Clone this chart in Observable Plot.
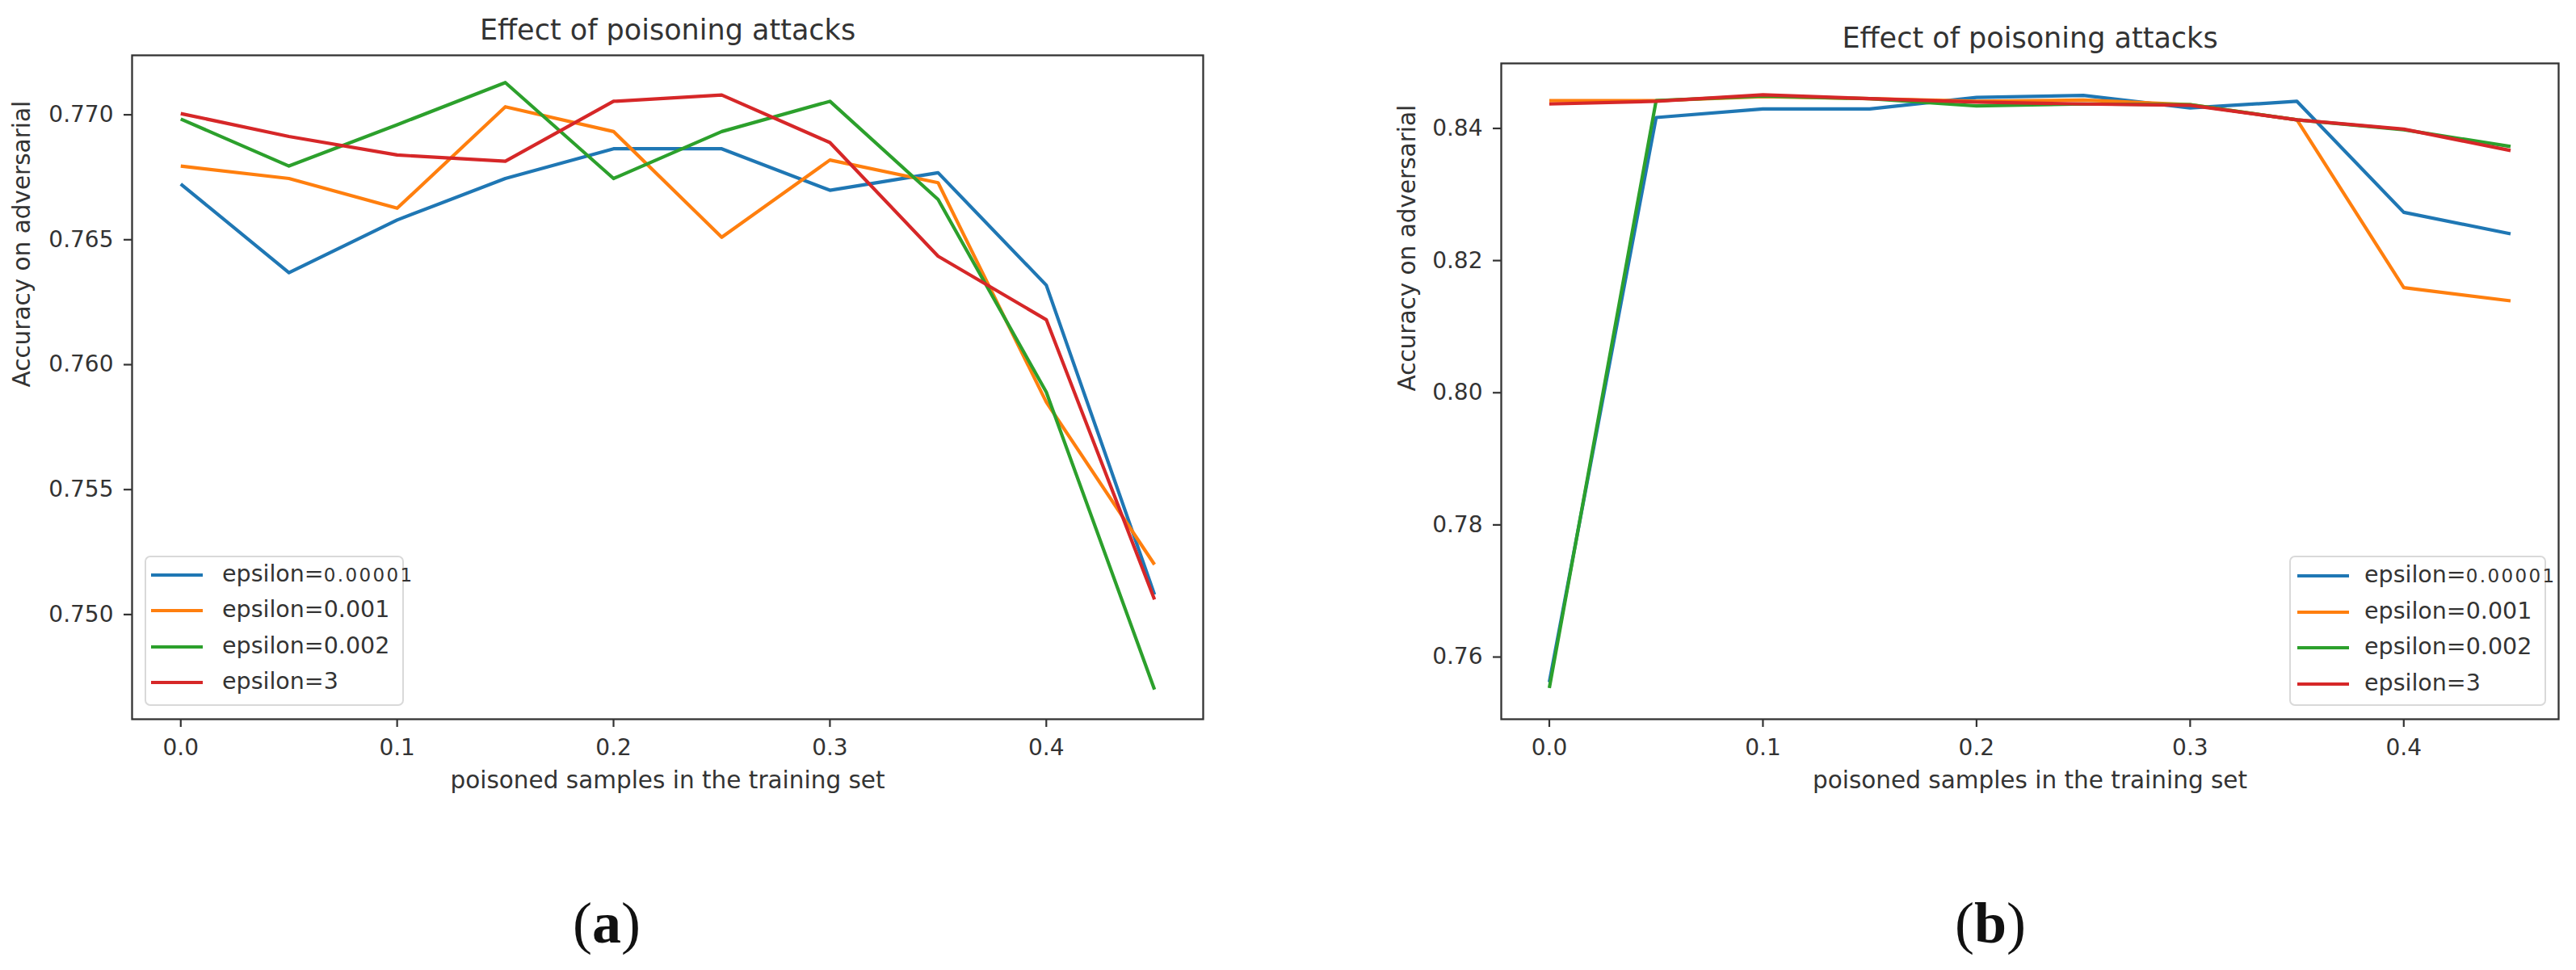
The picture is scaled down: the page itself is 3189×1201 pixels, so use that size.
<!DOCTYPE html>
<html>
<head>
<meta charset="utf-8">
<script src="https://cdn.jsdelivr.net/npm/d3@7"></script>
<script src="https://cdn.jsdelivr.net/npm/@observablehq/plot@0.6"></script>
<style>
  html, body { margin: 0; padding: 0; background: #fff; }
  #page { position: relative; width: 3189px; height: 1201px; overflow: hidden; background: #fff; font-family: "DejaVu Sans", sans-serif; color: #333; }
  .chart { position: absolute; top: 0; }
  .legend { position: absolute; box-sizing: border-box; border: 2px solid #d9d9d9; border-radius: 7px; background: rgba(255,255,255,0.85); }
  .entry { position: absolute; left: 0; width: 100%; height: 0; }
  .handle { position: absolute; height: 4.2px; top: -2.1px; }
  .ltext { position: absolute; top: 0; transform: translateY(-52%); font-size: 28.5px; line-height: 1; white-space: nowrap; color: #333; }
  .small { font-size: 23px; letter-spacing: 2.4px; }
  .sub { position: absolute; font-family: "Liberation Serif", serif; font-size: 72px; line-height: 1; transform: translate(-50%, -50%); color: #111; white-space: nowrap; }
</style>
</head>
<body>
<div id="page"></div>
<script>
// ---------- data ----------
const xValues = [0, 0.05, 0.1, 0.15, 0.2, 0.25, 0.3, 0.35, 0.4, 0.45];
const seriesNames = ["epsilon=0.00001", "epsilon=0.001", "epsilon=0.002", "epsilon=3"];
const seriesColors = ["#1f77b4", "#ff7f0e", "#2ca02c", "#d62728"];

// chart (a)
const aBlue   = [0.76723, 0.76368, 0.76579, 0.76745, 0.76864, 0.76864, 0.76698, 0.76768, 0.76318, 0.7508];
const aOrange = [0.76795, 0.76745, 0.76626, 0.77032, 0.76933, 0.76510, 0.76819, 0.76728, 0.75850, 0.7520];
const aGreen  = [0.76983, 0.76795, 0.76960, 0.77129, 0.76745, 0.76933, 0.77054, 0.76661, 0.75890, 0.7470];
const aRed    = [0.77005, 0.76913, 0.76839, 0.76814, 0.77054, 0.77079, 0.76889, 0.76434, 0.76180, 0.7506];

// chart (b)
const bBlue   = [0.7562, 0.84165, 0.84295, 0.84295, 0.8447, 0.8450, 0.8431, 0.8441, 0.8273, 0.82405];
const bOrange = [0.8442, 0.8442, 0.8448, 0.8445, 0.8441, 0.8443, 0.8436, 0.8413, 0.8159, 0.8139];
const bGreen  = [0.7553, 0.8442, 0.8449, 0.8445, 0.8434, 0.8437, 0.8436, 0.8413, 0.8398, 0.83726];
const bRed    = [0.8437, 0.8441, 0.8451, 0.8445, 0.8440, 0.8437, 0.8435, 0.8413, 0.8399, 0.83665];

const xTicks = [0, 0.1, 0.2, 0.3, 0.4];
const yTicksA = [0.750, 0.755, 0.760, 0.765, 0.770];
const yTicksB = [0.76, 0.78, 0.80, 0.82, 0.84];

const titleText = "Effect of poisoning attacks";
const xLabelText = "poisoned samples in the training set";
const yLabelText = "Accuracy on adversarial";

// ---------- build ----------
function rows(seriesVals) {
  return seriesNames.flatMap((s, i) => xValues.map((x, j) => ({series: s, x, y: seriesVals[i][j]})));
}

function makeChart(cfg) {
  const data = rows(cfg.values);
  return Plot.plot({
    width: cfg.width, height: 1000,
    marginLeft: cfg.ml, marginRight: cfg.mr, marginTop: cfg.mt, marginBottom: 1000 - 890,
    style: {fontFamily: "DejaVu Sans", color: "#333", background: "transparent", overflow: "visible"},
    x: {domain: [-0.0225, 0.4725]},
    y: {domain: cfg.yDomain},
    color: {domain: seriesNames, range: seriesColors},
    marks: [
      Plot.lineY(data, {x: "x", y: "y", z: "series", stroke: "series", strokeWidth: 4.2, strokeLinejoin: "round", strokeLinecap: "butt"}),
      Plot.frame({stroke: "#333", strokeWidth: 2.3}),
      Plot.axisX({ticks: xTicks, tickFormat: d3.format(".1f"), tickSize: 10, tickPadding: 15, fontSize: 28, strokeWidth: 2.2, color: "#333", label: null}),
      Plot.axisY({ticks: cfg.yTicks, tickFormat: d3.format(cfg.yFmt), tickSize: 10, tickPadding: 13, fontSize: 28, strokeWidth: 2.2, color: "#333", label: null}),
      Plot.text([titleText], {text: d => d, frameAnchor: "top", dy: cfg.titleDy, fontSize: 35, lineAnchor: "middle", fill: "#333"}),
      Plot.text([xLabelText], {text: d => d, frameAnchor: "bottom", dy: 76, fontSize: 29.5, lineAnchor: "middle", fill: "#333"}),
      Plot.text([yLabelText], {text: d => d, frameAnchor: "left", dx: cfg.yLabelDx, rotate: -90, fontSize: 29.5, lineAnchor: "middle", fill: "#333"})
    ]
  });
}

const page = document.getElementById("page");

const chartA = makeChart({
  values: [aBlue, aOrange, aGreen, aRed], width: 1520, ml: 163, mr: 1520 - 1489, mt: 68,
  yDomain: [0.74581, 0.77238], yTicks: yTicksA, yFmt: ".3f", titleDy: -31, yLabelDx: -136
});
const wrapA = document.createElement("div");
wrapA.className = "chart"; wrapA.style.left = "0px";
wrapA.appendChild(chartA); page.appendChild(wrapA);

const chartB = makeChart({
  values: [bBlue, bOrange, bGreen, bRed], width: 1589, ml: 258, mr: 1589 - 1567, mt: 78,
  yDomain: [0.75059, 0.84984], yTicks: yTicksB, yFmt: ".2f", titleDy: -30.5, yLabelDx: -116
});
const wrapB = document.createElement("div");
wrapB.className = "chart"; wrapB.style.left = "1600px";
wrapB.appendChild(chartB); page.appendChild(wrapB);

// ---------- legends ----------
function makeLegend(left, top, width, height, entryYs, handleX, textX) {
  const box = document.createElement("div");
  box.className = "legend";
  Object.assign(box.style, {left: left + "px", top: top + "px", width: width + "px", height: height + "px"});
  seriesNames.forEach((name, i) => {
    const e = document.createElement("div");
    e.className = "entry";
    e.style.top = (entryYs[i] - top - 2) + "px";
    const h = document.createElement("div");
    h.className = "handle";
    Object.assign(h.style, {left: (handleX - left - 2) + "px", width: "64px", background: seriesColors[i]});
    const t = document.createElement("div");
    t.className = "ltext";
    t.style.left = (textX - left - 2) + "px";
    const eq = name.indexOf("=");
    const head = name.slice(0, eq + 1), tail = name.slice(eq + 1);
    t.appendChild(document.createTextNode(head));
    const s = document.createElement("span");
    if (tail === "0.00001") s.className = "small";
    s.textContent = tail;
    t.appendChild(s);
    e.appendChild(h); e.appendChild(t);
    box.appendChild(e);
  });
  page.appendChild(box);
}
makeLegend(179, 688, 321, 186, [712, 756, 801, 845], 187, 275);
makeLegend(2834, 688, 318, 186, [713, 758, 802, 847], 2844, 2927);

// ---------- sub-captions ----------
function sub(letter, cx, cy) {
  const d = document.createElement("div");
  d.className = "sub";
  d.style.left = cx + "px"; d.style.top = cy + "px";
  d.innerHTML = "(<b>" + letter + "</b>)";
  page.appendChild(d);
}
sub("a", 751, 1143);
sub("b", 2464, 1143);
</script>
</body>
</html>
